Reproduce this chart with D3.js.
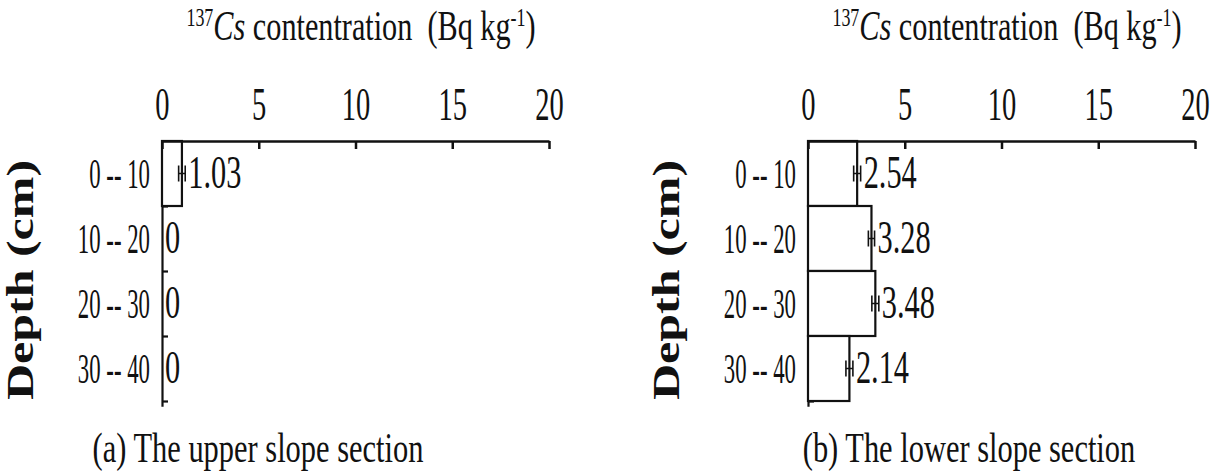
<!DOCTYPE html>
<html><head><meta charset="utf-8">
<script src="https://cdn.jsdelivr.net/npm/d3@7"></script>
<style>
body{margin:0;background:#fff}
svg{display:block}
text{font-family:"Liberation Serif","Times New Roman",serif;fill:#111}
</style>
</head><body>
<svg id="c" width="1221" height="475"></svg>
<script>
const depths = ["0 -- 10", "10 -- 20", "20 -- 30", "30 -- 40"];
const xTicks = [0, 5, 10, 15, 20];
const upperValues = [1.03, 0, 0, 0];
const upperErrors = [0.17, 0, 0, 0];
const lowerValues = [2.54, 3.28, 3.48, 2.14];
const lowerErrors = [0.18, 0.16, 0.18, 0.18];
const captions = ["(a) The upper slope section", "(b) The lower slope section"];

const svg = d3.select("#c");

function panel(x0, values, errors, caption, capDx) {
  const g = svg.append("g");
  const x = d3.scaleLinear().domain([0, 20]).range([x0, x0 + 387]);
  const y = d3.scaleBand().domain(depths).range([141, 401]).paddingInner(0);
  const depthScale = d3.scaleLinear().domain([0, 40.8]).range([141, 141 + 40.8 * 6.5]);

  // left axis with small boundary ticks
  const ya = g.append("g").attr("transform", `translate(${x(0)},0)`)
    .call(d3.axisRight(depthScale).tickValues([10, 20, 30, 40]).tickSize(6).tickSizeOuter(0).tickFormat(""));
  ya.selectAll("path,line").attr("stroke", "#111").attr("stroke-width", 2.2);

  // bars
  g.selectAll("rect.bar").data(values).join("rect")
    .attr("x", x(0)).attr("y", (d, i) => y(depths[i]))
    .attr("width", d => x(d) - x(0)).attr("height", y.bandwidth())
    .attr("fill", "#fff").attr("stroke", "#111").attr("stroke-width", 2.2);

  // error bars + value labels
  values.forEach((v, i) => {
    const e = errors[i];
    const cy = y(depths[i]) + y.bandwidth() / 2;
    if (e > 0) {
      g.append("line").attr("x1", x(v - e)).attr("x2", x(v + e)).attr("y1", cy).attr("y2", cy)
        .attr("stroke", "#111").attr("stroke-width", 1.5);
      [v - e, v + e].forEach(t => g.append("line").attr("x1", x(t)).attr("x2", x(t))
        .attr("y1", cy - 8).attr("y2", cy + 8).attr("stroke", "#111").attr("stroke-width", 1.6));
    }
    g.append("text").attr("transform", `translate(${x(v + e) + 3},${cy + 14}) scale(0.66,1)`)
      .attr("font-size", 46).text(d3.format(v === 0 ? "d" : ".2f")(v));
  });

  // top axis
  const xa = g.append("g").attr("transform", "translate(0,141)")
    .call(d3.axisTop(x).tickValues(xTicks).tickSizeInner(-8).tickSizeOuter(0).tickFormat(d3.format("d")));
  xa.selectAll("path,line").attr("stroke", "#111").attr("stroke-width", 2.5);
  xa.selectAll("text").attr("y", -21).attr("dy", null).attr("font-size", 46)
    .attr("font-family", null).attr("fill", "#111").attr("transform", "scale(0.62,1)");

  // category labels
  const ca = g.append("g").attr("transform", `translate(${x(0)},0)`)
    .call(d3.axisLeft(y).tickSize(0).tickPadding(0));
  ca.select(".domain").remove();
  ca.selectAll("text").attr("x", -12 / 0.53).attr("dy", "0.34em").attr("font-size", 43)
    .attr("font-family", null).attr("fill", "#111")
    .attr("transform", "scale(0.53,1)");

  // title
  const t = g.append("text").attr("text-anchor", "middle").attr("font-size", 42)
    .attr("transform", `translate(${x0 + 199},40) scale(0.72,1)`).style("white-space", "pre");
  t.append("tspan").attr("font-size", 25).attr("dy", -14).text("137");
  t.append("tspan").attr("font-style", "italic").attr("dy", 14).text("Cs");
  t.append("tspan").text(" contentration  (Bq kg");
  t.append("tspan").attr("font-size", 25).attr("dy", -14).text("-1");
  t.append("tspan").attr("dy", 14).text(")");

  // depth label
  g.append("text").attr("text-anchor", "middle").attr("font-size", 50).attr("font-weight", "bold")
    .attr("transform", `translate(${x0 - 129},280) rotate(-90) scale(1,0.76)`).text("Depth (cm)");

  // caption
  g.append("text").attr("text-anchor", "middle").attr("font-size", 42)
    .attr("transform", `translate(${x0 + capDx},462) scale(0.725,1)`).text(caption);
}

panel(162, upperValues, upperErrors, captions[0], 96);
panel(808, lowerValues, lowerErrors, captions[1], 161);
</script>
</body></html>
